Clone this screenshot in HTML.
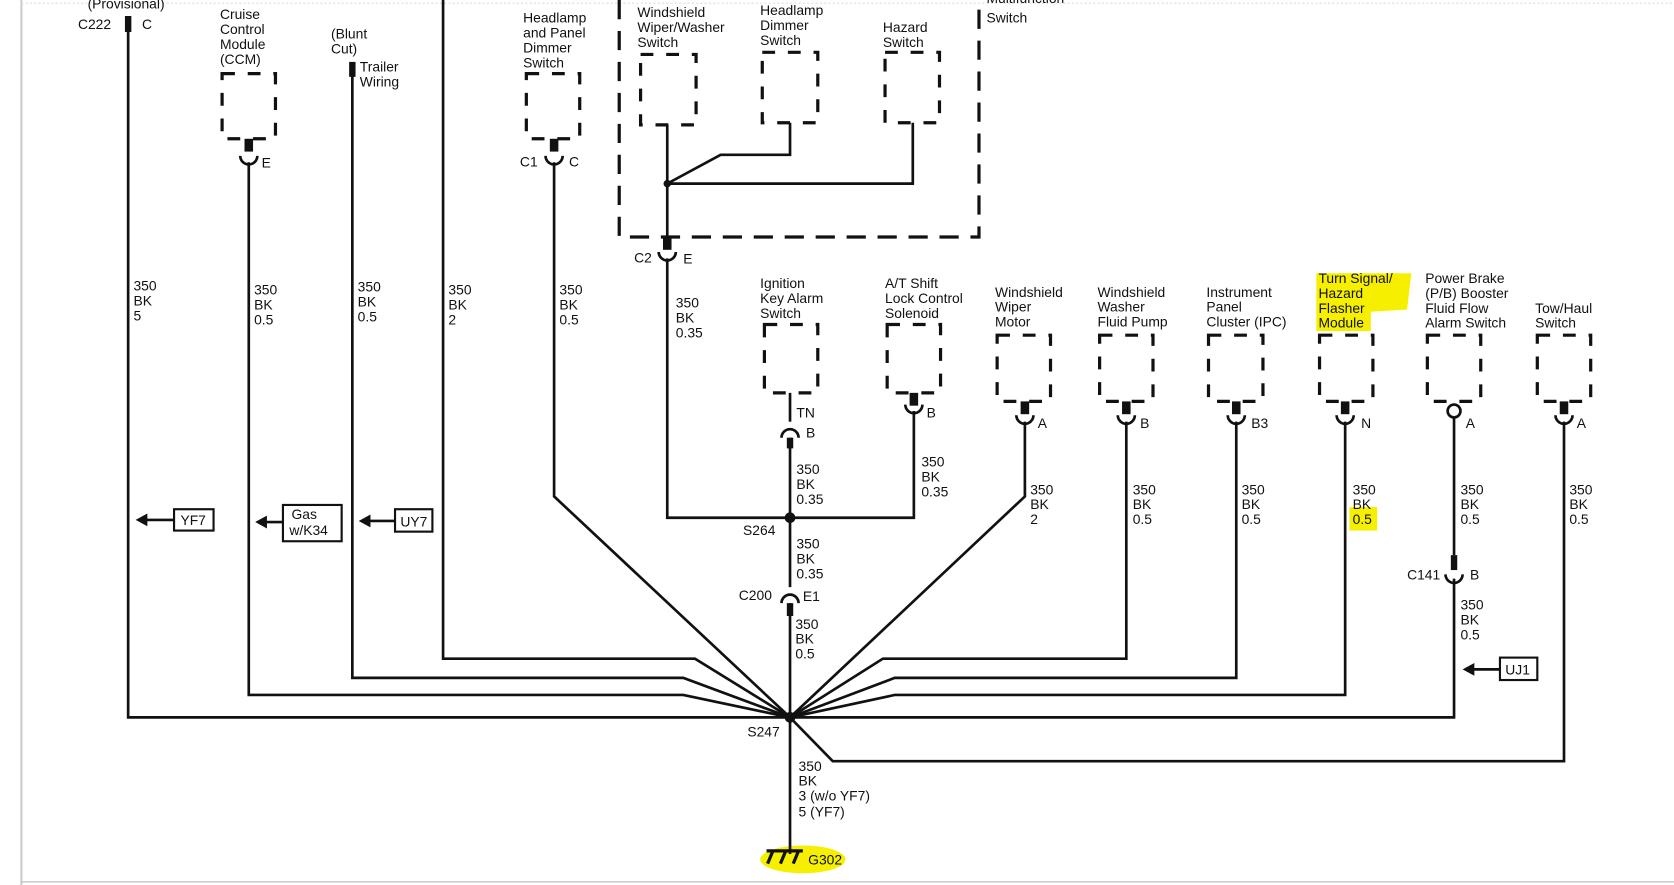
<!DOCTYPE html>
<html><head><meta charset="utf-8"><style>
html,body{margin:0;padding:0;background:#fff;}
svg{display:block;}
text{font-family:"Liberation Sans",sans-serif;font-size:13px;fill:#111;}
</style></head><body>
<svg width="1674" height="885" viewBox="0 0 1568 829" xmlns="http://www.w3.org/2000/svg">
<rect width="1568" height="829" fill="#fff"/>
<line x1="20" y1="0" x2="20" y2="829" stroke="#ccc" stroke-width="2"/>
<line x1="20" y1="3" x2="1568" y2="3" stroke="#ddd" stroke-width="1" stroke-dasharray="2,2"/>
<line x1="20" y1="826" x2="1568" y2="826" stroke="#ccc" stroke-width="1.5"/>

<!-- highlights -->
<g fill="#f6f000">
<path d="M1233 256 L1322 256 L1318 290 L1284 292 L1284 310 L1233 310 Z"/>
<rect x="1264" y="475" width="26" height="22"/>
<ellipse cx="752" cy="805" rx="40" ry="13"/>
</g>

<g fill="none" stroke="#111" stroke-width="2.5" stroke-linejoin="miter">
<!-- wires -->
<path d="M120 17 V672 H740"/>
<path d="M233 152 V651 H640 L740 672"/>
<path d="M330 60 V635 H640 L740 672"/>
<path d="M415 0 V617 H651 L740 672"/>
<path d="M519 152 V465 L740 672"/>
<path d="M625 117 V222"/>
<path d="M740 115 V145 H675 L625 172 H855 V115"/>
<path d="M625 242 V485 H856 V385"/>
<path d="M740 368 V395"/>
<path d="M740 410 V550"/>
<path d="M740 565 V800"/>
<path d="M960 395 V465 L740 672"/>
<path d="M1055 395 V617 H827 L740 672"/>
<path d="M1158 395 V635 H838 L740 672"/>
<path d="M1260 395 V651 H838 L740 672"/>
<path d="M1362 391 V520"/>
<path d="M1362 542 V672 H740"/>
<path d="M1465 395 V713 H780 L740 672"/>
<!-- multifunction box -->
<path d="M580 0 V222 H917 V0" stroke-width="3" stroke-dasharray="18,11"/>
<!-- component boxes -->
<g stroke-width="3" stroke-dasharray="12,12">
<rect x="208" y="69" width="50" height="61"/>
<rect x="493" y="69" width="50" height="61"/>
<rect x="600" y="51" width="52" height="66"/>
<rect x="714" y="49" width="52" height="66"/>
<rect x="829" y="49" width="51" height="66"/>
<rect x="716" y="304" width="50" height="64"/>
<rect x="831" y="304" width="50" height="64"/>
<rect x="934" y="314" width="50" height="62"/>
<rect x="1030" y="314" width="50" height="62"/>
<rect x="1132" y="314" width="51" height="62"/>
<rect x="1236" y="314" width="50" height="62"/>
<rect x="1337" y="314" width="50" height="62"/>
<rect x="1440" y="314" width="50" height="62"/>
</g>
<!-- cups (U) -->
<path d="M225 146 A8 8 0 0 0 241 146"/>
<path d="M511 146 A8 8 0 0 0 527 146"/>
<path d="M617 236 A8 8 0 0 0 633 236"/>
<path d="M848 379 A8 8 0 0 0 864 379"/>
<path d="M952 389 A8 8 0 0 0 968 389"/>
<path d="M1047 389 A8 8 0 0 0 1063 389"/>
<path d="M1150 389 A8 8 0 0 0 1166 389"/>
<path d="M1252 389 A8 8 0 0 0 1268 389"/>
<path d="M1457 389 A8 8 0 0 0 1473 389"/>
<path d="M1354 538 A8 8 0 0 0 1370 538"/>
<!-- inverted cups -->
<path d="M732 410 A8 8 0 0 1 748 410"/>
<path d="M732 565 A8 8 0 0 1 748 565"/>
<circle cx="1362" cy="385" r="6"/>
<!-- label boxes -->
<rect x="163" y="477" width="37" height="20" stroke-width="2"/>
<rect x="265" y="473" width="55" height="34" stroke-width="2"/>
<rect x="370" y="477" width="35" height="21" stroke-width="2"/>
<rect x="1405" y="616" width="35" height="21" stroke-width="2"/>
<path d="M163 487 H135 M265 489 H247 M370 488 H344 M1405 627 H1378" stroke-width="2.5"/>
<!-- ground -->
<path d="M718 797 H752 M724 797 L719 809 M736 797 L731 809 M748 797 L743 809" stroke-width="3"/>
</g>
<!-- bars & arrowheads & dots -->
<g fill="#111">
<rect x="117" y="15" width="6" height="15"/>
<rect x="327" y="58" width="6" height="14"/>
<rect x="229" y="130" width="8" height="12"/>
<rect x="515" y="130" width="8" height="12"/>
<rect x="621" y="222" width="8" height="12"/>
<rect x="852" y="368" width="8" height="12"/>
<rect x="956" y="376" width="8" height="12"/>
<rect x="1051" y="376" width="8" height="12"/>
<rect x="1154" y="376" width="8" height="12"/>
<rect x="1256" y="376" width="8" height="12"/>
<rect x="1461" y="376" width="8" height="12"/>
<rect x="737" y="410" width="6" height="10"/>
<rect x="737" y="565" width="6" height="12"/>
<rect x="1359" y="520" width="6" height="14"/>
<circle cx="625" cy="172" r="3.5"/>
<circle cx="740" cy="485" r="5"/>
<circle cx="740" cy="672" r="5"/>
<path d="M127 487 L138 481 L138 493 Z"/>
<path d="M239 489 L250 483 L250 495 Z"/>
<path d="M336 488 L347 482 L347 494 Z"/>
<path d="M1370 627 L1381 621 L1381 633 Z"/>
</g>

<g>
<text x="82" y="8">(Provisional)</text>
<text x="73" y="27">C222</text><text x="133" y="27">C</text>
<text x="206" y="18">Cruise</text><text x="206" y="32">Control</text><text x="206" y="46">Module</text><text x="206" y="60">(CCM)</text>
<text x="245" y="157">E</text>
<text x="310" y="36">(Blunt</text><text x="310" y="50">Cut)</text>
<text x="337" y="67">Trailer</text><text x="337" y="81">Wiring</text>
<text x="490" y="21">Headlamp</text><text x="490" y="35">and Panel</text><text x="490" y="49">Dimmer</text><text x="490" y="63">Switch</text>
<text x="487" y="156">C1</text><text x="533" y="156">C</text>
<text x="597" y="16">Windshield</text><text x="597" y="30">Wiper/Washer</text><text x="597" y="44">Switch</text>
<text x="712" y="14">Headlamp</text><text x="712" y="28">Dimmer</text><text x="712" y="42">Switch</text>
<text x="827" y="30">Hazard</text><text x="827" y="44">Switch</text>
<text x="924" y="3">Multifunction</text><text x="924" y="21">Switch</text>
<text x="594" y="246">C2</text><text x="640" y="247">E</text>
<text x="712" y="270">Ignition</text><text x="712" y="284">Key Alarm</text><text x="712" y="298">Switch</text>
<text x="829" y="270">A/T Shift</text><text x="829" y="284">Lock Control</text><text x="829" y="298">Solenoid</text>
<text x="932" y="278">Windshield</text><text x="932" y="292">Wiper</text><text x="932" y="306">Motor</text>
<text x="1028" y="278">Windshield</text><text x="1028" y="292">Washer</text><text x="1028" y="306">Fluid Pump</text>
<text x="1130" y="278">Instrument</text><text x="1130" y="292">Panel</text><text x="1130" y="306">Cluster (IPC)</text>
<text x="1235" y="265">Turn Signal/</text><text x="1235" y="279">Hazard</text><text x="1235" y="293">Flasher</text><text x="1235" y="307">Module</text>
<text x="1335" y="265">Power Brake</text><text x="1335" y="279">(P/B) Booster</text><text x="1335" y="293">Fluid Flow</text><text x="1335" y="307">Alarm Switch</text>
<text x="1438" y="293">Tow/Haul</text><text x="1438" y="307">Switch</text>
<text x="746" y="391">TN</text><text x="755" y="410">B</text>
<text x="868" y="391">B</text>
<text x="972" y="401">A</text><text x="1068" y="401">B</text><text x="1172" y="401">B3</text>
<text x="1275" y="401">N</text><text x="1373" y="401">A</text><text x="1477" y="401">A</text>
<text x="1318" y="543">C141</text><text x="1377" y="543">B</text>
<text x="696" y="501">S264</text>
<text x="692" y="562">C200</text><text x="752" y="563">E1</text>
<text x="700" y="690">S247</text>
<text x="757" y="810">G302</text>
<text x="169" y="492">YF7</text>
<text x="273" y="486">Gas</text><text x="271" y="501">w/K34</text>
<text x="375" y="493">UY7</text>
<text x="1410" y="632">UJ1</text>
</g>
<g>
<text x="125" y="272">350</text><text x="125" y="286">BK</text><text x="125" y="300">5</text>
<text x="238" y="276">350</text><text x="238" y="290">BK</text><text x="238" y="304">0.5</text>
<text x="335" y="273">350</text><text x="335" y="287">BK</text><text x="335" y="301">0.5</text>
<text x="420" y="276">350</text><text x="420" y="290">BK</text><text x="420" y="304">2</text>
<text x="524" y="276">350</text><text x="524" y="290">BK</text><text x="524" y="304">0.5</text>
<text x="633" y="288">350</text><text x="633" y="302">BK</text><text x="633" y="316">0.35</text>
<text x="746" y="444">350</text><text x="746" y="458">BK</text><text x="746" y="472">0.35</text>
<text x="863" y="437">350</text><text x="863" y="451">BK</text><text x="863" y="465">0.35</text>
<text x="965" y="463">350</text><text x="965" y="477">BK</text><text x="965" y="491">2</text>
<text x="1061" y="463">350</text><text x="1061" y="477">BK</text><text x="1061" y="491">0.5</text>
<text x="1163" y="463">350</text><text x="1163" y="477">BK</text><text x="1163" y="491">0.5</text>
<text x="1267" y="463">350</text><text x="1267" y="477">BK</text><text x="1267" y="491">0.5</text>
<text x="1368" y="463">350</text><text x="1368" y="477">BK</text><text x="1368" y="491">0.5</text>
<text x="1470" y="463">350</text><text x="1470" y="477">BK</text><text x="1470" y="491">0.5</text>
<text x="746" y="514">350</text><text x="746" y="528">BK</text><text x="746" y="542">0.35</text>
<text x="745" y="589">350</text><text x="745" y="603">BK</text><text x="745" y="617">0.5</text>
<text x="1368" y="571">350</text><text x="1368" y="585">BK</text><text x="1368" y="599">0.5</text>
<text x="748" y="722">350</text><text x="748" y="736">BK</text><text x="748" y="750">3 (w/o YF7)</text><text x="748" y="765">5 (YF7)</text>
</g>
</svg>
</body></html>
